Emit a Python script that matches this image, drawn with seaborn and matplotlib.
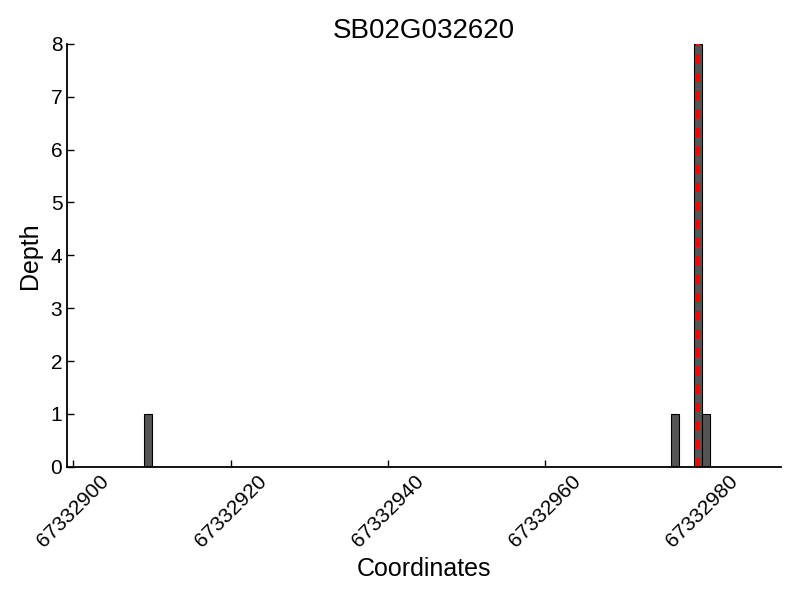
import numpy as np
import pandas as pd
import seaborn as sns
import matplotlib.pyplot as plt
from matplotlib.ticker import MultipleLocator

# read depth per coordinate
coords = [67332909, 67332976, 67332979, 67332980]
depths = [1, 1, 8, 1]
gene = 'SB02G032620'
site = 67332979.5

df = pd.DataFrame({'coord': coords, 'depth': depths})

sns.set_style('ticks', {'xtick.direction': 'in', 'ytick.direction': 'in',
                        'text.color': 'black', 'axes.labelcolor': 'black',
                        'xtick.color': 'black', 'ytick.color': 'black'})
plt.rcParams['font.family'] = ['Liberation Sans', 'DejaVu Sans']

fig = plt.figure(figsize=(8, 6), dpi=100)
ax = fig.add_axes([0.084, 0.222, 0.892, 0.705])

sns.histplot(data=df, x='coord', weights='depth', binwidth=1,
             binrange=(min(coords), max(coords) + 1), color='#555555',
             edgecolor='black', linewidth=0.8, alpha=1, ax=ax)
ax.axvline(site, color='#ff0000', linestyle=(0, (2.2, 2.2)), linewidth=3)

ax.set_xlim(67332899.2, 67332990)
ax.set_ylim(0, 8)
ax.xaxis.set_major_locator(MultipleLocator(20))
ax.ticklabel_format(axis='x', useOffset=False, style='plain')
ax.tick_params(labelsize=15, length=5, width=1)
plt.setp(ax.get_xticklabels(), rotation=45)
ax.set_xlabel('Coordinates', fontsize=18)
ax.set_ylabel('Depth', fontsize=18, labelpad=6)
ax.set_title(gene, fontsize=20, pad=4)
for s in ['left', 'bottom']:
    ax.spines[s].set_linewidth(1.3)
    ax.spines[s].set_color('black')
sns.despine(ax=ax)

plt.savefig('out.png', dpi=100)
